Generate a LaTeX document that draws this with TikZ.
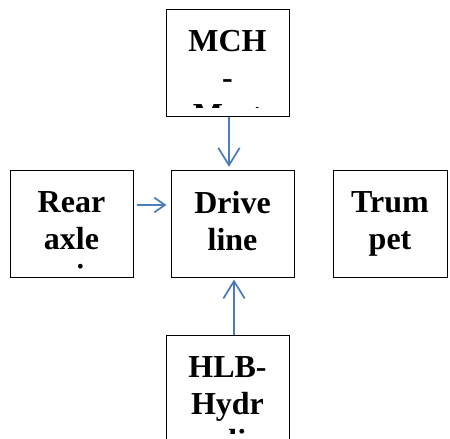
\documentclass[tikz,border=0pt]{standalone}
\usepackage{fontspec}
\setmainfont{Liberation Serif}
\usetikzlibrary{arrows.meta,positioning}
\definecolor{linkblue}{RGB}{74,126,187}

\begin{document}
\begin{tikzpicture}[x=0.75pt,y=-0.75pt,node distance=120.75pt,
    block/.style={draw,line width=0.75pt,inner sep=0pt,
      minimum width=92.25pt,minimum height=80.25pt},
    blocktext/.style={inner sep=0pt,align=center,
      font=\fontsize{24}{27.75}\selectfont\bfseries},
    feed/.style={draw=linkblue,line width=1.3pt,
      -{Straight Barb[length=13pt,width=16pt]}}]

  \useasboundingbox (0,0) rectangle (450,439);
  \clip (0,0) rectangle (450,439);

  \node[block] (drive) at (232.5,223.5) {};
  \node[block] (mch) [above of=drive, xshift=-3.75pt] {};
  \node[block] (rear) [left of=drive] {};
  \node[block,minimum width=85.5pt] (trumpet) [right of=drive, xshift=-2.6pt] {};
  \node[block] (hlb) [below of=drive, xshift=-3.75pt, yshift=-3pt] {};

  % texts run over the boxes and are cut off
  \begin{scope}
    \clip (mch.north west) rectangle ([yshift=6.75pt]mch.south east);
    \node[blocktext,below=16pt of mch.north] (mchtext) {MCH\\-\\Mast};
  \end{scope}
  \begin{scope}
    \clip (rear.north west) rectangle ([yshift=6.75pt]rear.south east);
    \node[blocktext,below=16pt of rear.north] (reartext) {Rear\\axle\\\phantom{u}i};
  \end{scope}
  \begin{scope}
    \clip (drive.north west) rectangle ([yshift=6.75pt]drive.south east);
    \node[blocktext,below=16pt of drive.north] (drivetext) {Drive\\line};
  \end{scope}
  \begin{scope}
    \clip (trumpet.north west) rectangle ([yshift=6.75pt]trumpet.south east);
    \node[blocktext,below=16pt of trumpet.north] (trumpettext) {Trum\\pet};
  \end{scope}
  \begin{scope}
    \clip (hlb.north west) rectangle ([yshift=6.75pt]hlb.south east);
    \node[blocktext,below=16pt of hlb.north] (hlbtext) {HLB-\\Hydr\\aulic};
  \end{scope}

  \draw[feed,shorten >=2pt] ([xshift=1.1pt]mch.south) -- ([xshift=1.1pt]mch.south |- drive.north);
  \draw[feed,shorten >=1.5pt] ([xshift=4.9pt]hlb.north) -- ([xshift=4.9pt]hlb.north |- drive.south);
  \draw[feed,-{Straight Barb[length=8pt,width=11pt]},shorten <=2.25pt,shorten >=3pt]
    ([yshift=13.9pt]rear.east) -- ([yshift=13.9pt]rear.east -| drive.west);

\end{tikzpicture}
\end{document}
